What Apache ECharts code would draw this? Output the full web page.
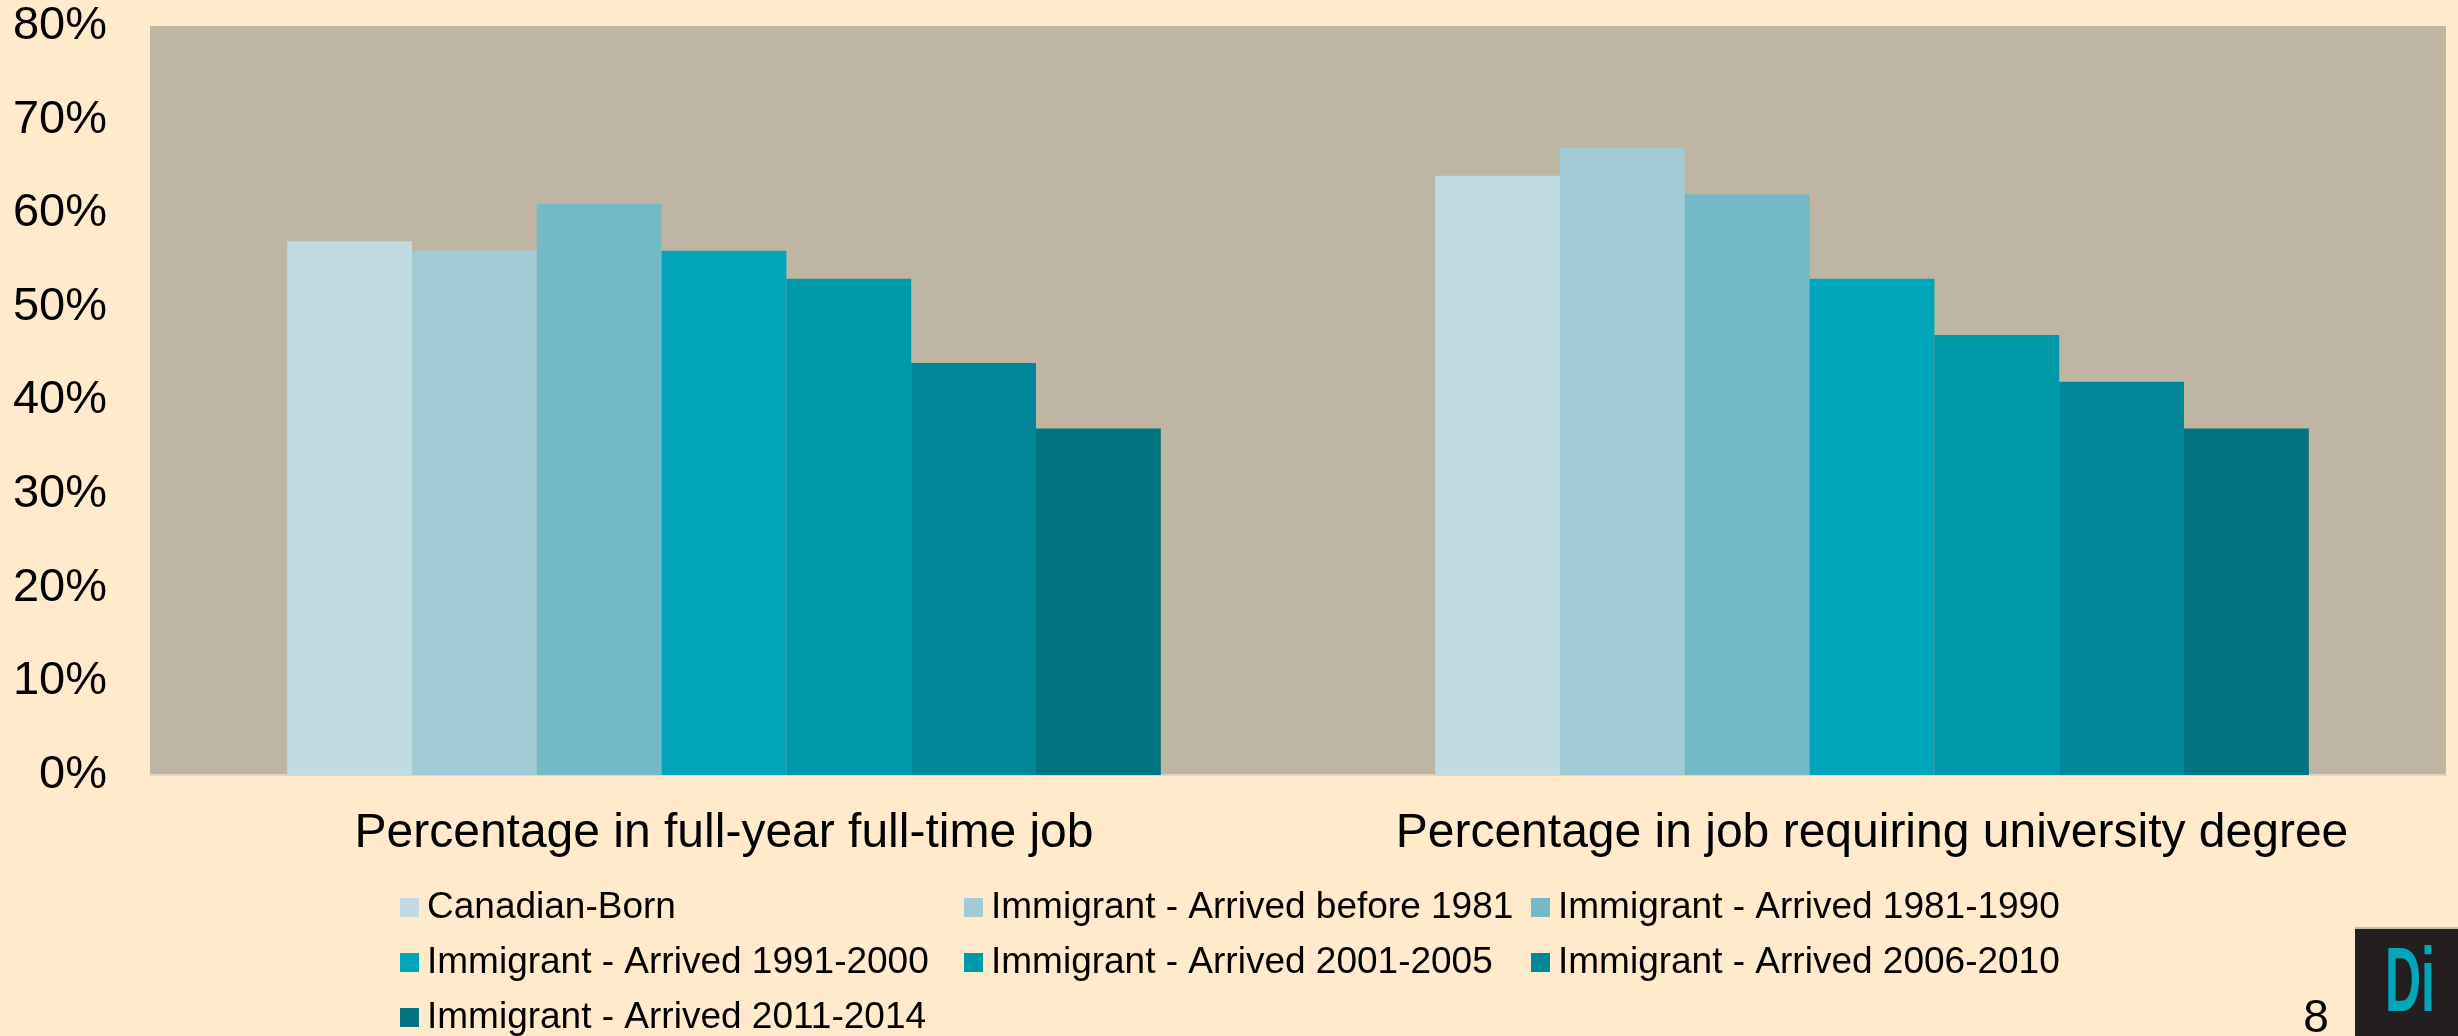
<!DOCTYPE html>
<html>
<head>
<meta charset="utf-8">
<script src="https://cdn.jsdelivr.net/npm/echarts@6/dist/echarts.min.js"></script>
<style>
  html, body { margin: 0; padding: 0; background: #FFEACC; }
  #chart { width: 2458px; height: 1036px; }
</style>
</head>
<body>
<div id="chart"></div>
<script>
const categories = ['Percentage in full-year full-time job', 'Percentage in job requiring university degree'];
const seriesNames = [
  'Canadian-Born',
  'Immigrant - Arrived before 1981',
  'Immigrant - Arrived 1981-1990',
  'Immigrant - Arrived 1991-2000',
  'Immigrant - Arrived 2001-2005',
  'Immigrant - Arrived 2006-2010',
  'Immigrant - Arrived 2011-2014'
];
const canadianBorn = [57, 64];
const before1981 = [56, 67];
const arrived1981_1990 = [61, 62];
const arrived1991_2000 = [56, 53];
const arrived2001_2005 = [53, 47];
const arrived2006_2010 = [44, 42];
const arrived2011_2014 = [37, 37];
const seriesValues = [canadianBorn, before1981, arrived1981_1990, arrived1991_2000, arrived2001_2005, arrived2006_2010, arrived2011_2014];
const yTicks = [0, 10, 20, 30, 40, 50, 60, 70, 80];
const pageNumber = '8';
const logoText = 'Di';

const colors = ['#C1DBE2', '#A2CBD5', '#73B9C6', '#00A6BA', '#0099AB', '#008798', '#007480'];
const FONT = '"Liberation Sans", Arial, sans-serif';

// legend layout (positions only)
const legendPos = [
  [400, 910], [964, 910], [1531, 910],
  [400, 965], [964, 965], [1531, 965],
  [400, 1020]
];

const chart = echarts.init(document.getElementById('chart'), null, { renderer: 'canvas' });

const option = {
  backgroundColor: '#FFEACC',
  animation: false,
  color: colors,
  grid: {
    left: 150, right: 12, top: 26, bottom: 261,
    show: true, backgroundColor: '#BFB5A3', borderWidth: 0
  },
  xAxis: {
    type: 'category',
    data: categories,
    axisLine: { show: true, lineStyle: { color: '#DCD6CC', width: 2 } },
    axisTick: { show: false },
    axisLabel: { interval: 0, fontSize: 48, color: '#000', fontFamily: FONT, margin: 35 },
    splitLine: { show: false }
  },
  yAxis: {
    type: 'value',
    min: yTicks[0], max: yTicks[yTicks.length - 1], interval: 10,
    axisLine: { show: false },
    axisTick: { show: false },
    splitLine: { show: false },
    axisLabel: { formatter: '{value}%', fontSize: 47, color: '#000', fontFamily: FONT, margin: 43 }
  },
  legend: seriesNames.map((name, i) => ({
    data: [name],
    left: legendPos[i][0],
    top: legendPos[i][1] - 21,
    padding: 0,
    icon: 'rect',
    itemWidth: 19,
    itemHeight: 19,
    textStyle: { fontSize: 37, color: '#000', fontFamily: FONT, padding: [0, 0, 0, 3] },
    selectedMode: false
  })),
  series: seriesNames.map((name, i) => ({
    name: name,
    type: 'bar',
    data: seriesValues[i],
    barGap: '0%',
    barCategoryGap: '23.9%',
    itemStyle: { color: colors[i] }
  })),
  graphic: [
    { type: 'rect', shape: { x: 2355, y: 928, width: 103, height: 108 }, style: { fill: '#231F20' }, silent: true },
    { type: 'rect', shape: { x: 2355, y: 927, width: 103, height: 2 }, style: { fill: '#C9BDA9' }, silent: true },
    { type: 'text', x: 2410, y: 986, scaleX: 0.55, scaleY: 1,
      style: { text: logoText, font: 'bold 91px ' + FONT, fill: '#00A6BA', align: 'center', verticalAlign: 'middle' }, silent: true },
    { type: 'text', x: 2316, y: 1019,
      style: { text: pageNumber, font: '46px ' + FONT, fill: '#000', align: 'center', verticalAlign: 'middle' }, silent: true }
  ]
};
chart.setOption(option);
</script>
</body>
</html>
